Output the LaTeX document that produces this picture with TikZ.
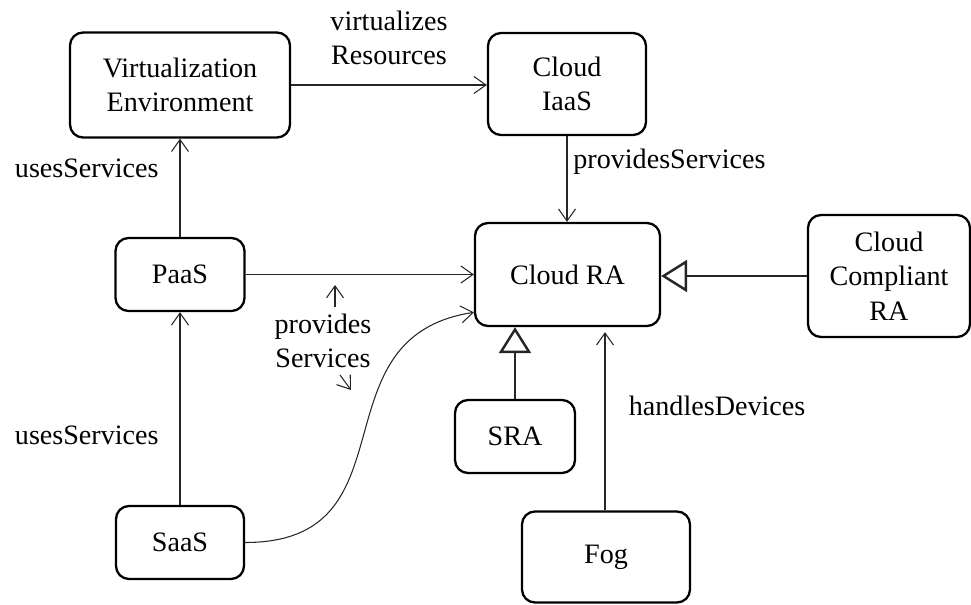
\documentclass[tikz,border=0pt]{standalone}
\usepackage{fontspec}
\setmainfont{Liberation Serif}
\usetikzlibrary{arrows.meta}

\begin{document}
\begin{tikzpicture}[
	box/.style={draw, line width=1.3pt, rounded corners=2.6mm, align=center, font=\fontsize{16}{19.5}\selectfont},
	lbl/.style={align=center, font=\fontsize{16}{19.5}\selectfont},
	uses/.style={draw=black!85, line width=0.6pt, -{Straight Barb[length=2.4mm,width=3.4mm]}},
	isa/.style={draw=black!85, line width=0.6pt, -{Triangle[open,length=5.2mm,width=6.4mm,line width=1.4pt]}}]
	\useasboundingbox (0,0) rectangle (19.42,12.08);
	\node[box, minimum width=4.4cm, minimum height=2.1cm] (ve) at (3.6,10.38) {Virtualization\\Environment};
	\node[box, minimum width=3.16cm, minimum height=2.04cm] (iaas) at (11.34,10.4) {Cloud\\IaaS};
	\node[box, minimum width=3.7cm, minimum height=2.06cm] (ra) at (11.35,6.59) {Cloud RA};
	\node[box, minimum width=3.24cm, minimum height=2.44cm] (ccra) at (17.78,6.56) {Cloud\\Compliant\\RA};
	\node[box, minimum width=2.58cm, minimum height=1.46cm] (paas) at (3.6,6.59) {PaaS};
	\node[box, minimum width=2.56cm, minimum height=1.46cm] (saas) at (3.6,1.23) {SaaS};
	\node[box, minimum width=2.4cm, minimum height=1.46cm] (sra) at (10.3,3.35) {SRA};
	\node[box, minimum width=3.36cm, minimum height=1.82cm] (fog) at (12.12,0.94) {Fog};

	\draw[uses] (ve.east) -- node[lbl, above=8pt] {virtualizes\\Resources} (iaas.west |- ve.east);
	\draw[uses] (iaas.south) -- node[lbl, pos=0.3, right] {providesServices} (iaas.south |- ra.north);
	\draw[uses] (paas.north) -- node[lbl, pos=0.7, left=3mm] {usesServices} (ve.south);
	\draw[uses] (saas.north) -- node[lbl, pos=0.36, left=3mm] {usesServices} (paas.south);
	\draw[uses] (paas.east) -- (ra.west |- paas.east);
	\draw[uses] (saas.east) .. controls +(3.44,0) and +(-3.24,-0.5) .. (ra.202);
	\draw[uses, shorten >=1mm] (fog.north -| 12.1,0) -- node[lbl, pos=0.57, right=3.5mm] {handlesDevices} (ra.south -| 12.1,0);
	\draw[isa] (sra.north) -- (sra.north |- ra.south);
	\draw[isa] (ccra.west) -- (ccra.west -| ra.east);

	\node[lbl] (prov) at (6.46,5.26) {provides\\Services};
	\coordinate (provup) at (6.7,5.94);
	\coordinate (provuptip) at (6.7,6.38);
	\coordinate (provdn) at (6.8,4.58);
	\coordinate (provdntip) at (7.02,4.28);
	\draw[uses] (provup) -- (provuptip);
	\draw[uses] (provdn) -- (provdntip);
\end{tikzpicture}
\end{document}
